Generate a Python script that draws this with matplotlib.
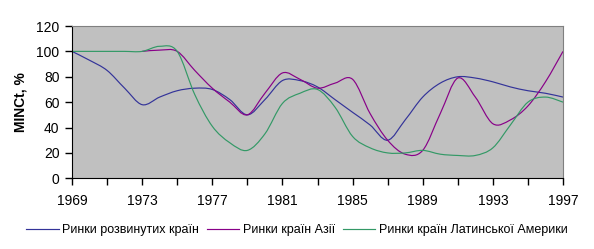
import matplotlib.pyplot as plt
import numpy as np
from matplotlib.path import Path
from matplotlib.patches import PathPatch
from matplotlib.lines import Line2D

plt.rcParams['font.family'] = ['Liberation Sans', 'DejaVu Sans']

# Data
years = list(range(1969, 1998))
developed = [100, 93, 85, 71, 58, 64, 69, 71, 70, 62, 50, 62, 77, 77, 72, 62,
             52, 42, 30, 46, 64, 75, 80, 79, 76, 72, 69, 67, 64]
asia_years = list(range(1973, 1998))
asia = [100, 101, 100, 85, 71, 60, 50, 67, 83, 78, 71, 75, 78, 51, 30, 19,
        22, 51, 79, 64, 43, 46, 57, 76, 100]
latam = [100, 100, 100, 100, 100, 104, 100, 66, 41, 28, 22, 35, 59, 67, 70, 56,
         33, 24, 20, 20, 22, 19, 18, 18, 24, 42, 60, 64, 60]

labels = ['Ринки розвинутих країн', 'Ринки країн Азії', 'Ринки країн Латинської Америки']
colors = ['#333399', '#880088', '#339966']


def smooth_path(x, y):
    # Excel-style smoothed line: cubic Bezier segments through the points
    x = np.asarray(x, float)
    y = np.asarray(y, float)
    pts = np.column_stack([x, y])
    n = len(pts)
    verts = [pts[0]]
    codes = [Path.MOVETO]
    for i in range(n - 1):
        p0 = pts[i - 1] if i > 0 else pts[i]
        p1 = pts[i]
        p2 = pts[i + 1]
        p3 = pts[i + 2] if i + 2 < n else pts[i + 1]
        c1 = p1 + (p2 - p0) / 6.0
        c2 = p2 - (p3 - p1) / 6.0
        verts += [c1, c2, p2]
        codes += [Path.CURVE4] * 3
    return Path(verts, codes)


fig = plt.figure(figsize=(5.94, 2.49), dpi=100)
ax = fig.add_axes([72 / 594, 1 - 178.3 / 249, (563 - 72) / 594, (178.3 - 26) / 249])
ax.set_facecolor('#C0C0C0')

series = [(years, developed), (asia_years, asia), (years, latam)]
for (xs, ys), c in zip(series, colors):
    ax.add_patch(PathPatch(smooth_path(xs, ys), facecolor='none', edgecolor=c, lw=0.85))

ax.set_xlim(1969, 1997)
ax.set_ylim(0, 120)
ax.set_yticks(range(0, 121, 20))
ax.set_xticks(range(1969, 1998, 2))
ax.set_xticklabels([str(y) if (y - 1969) % 4 == 0 else '' for y in range(1969, 1998, 2)])
ax.tick_params(direction='out', length=5, width=1, labelsize=10, colors='black', pad=4)
ax.tick_params(axis='x', pad=6)

for s in ['top', 'right']:
    ax.spines[s].set_color('#808080')
for s in ['left', 'bottom']:
    ax.spines[s].set_color('black')

ax.set_ylabel('MINCt, %', fontsize=10, fontweight='bold', labelpad=6)

handles = [Line2D([], [], color=c, lw=0.85) for c in colors]
fig.legend(handles, labels, loc='center', bbox_to_anchor=(0.5, 1 - 230 / 249), ncol=3,
           frameon=False, fontsize=9, handlelength=2.6, handletextpad=0.3, columnspacing=0.6)

fig.savefig('out.png', dpi=100)
